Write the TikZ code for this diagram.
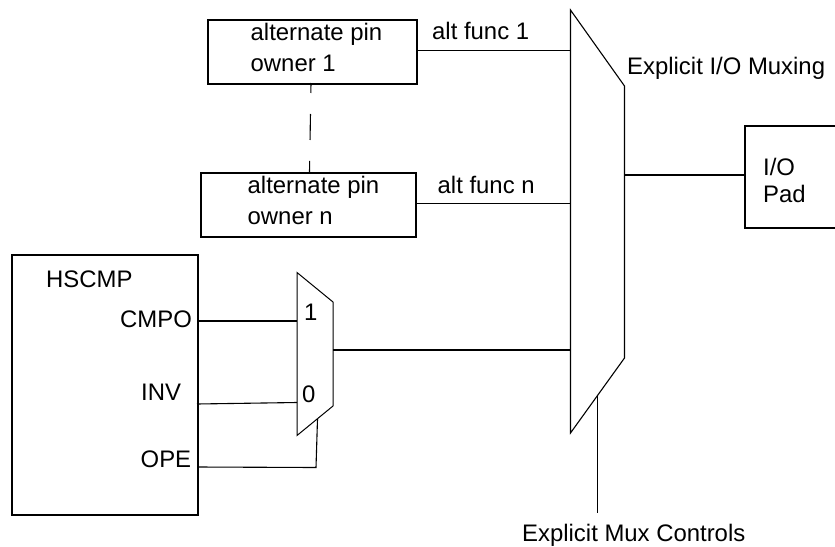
\documentclass[tikz,border=0pt]{standalone}
\usepackage{fontspec}
\setmainfont{Liberation Sans}
\begin{document}
\begin{tikzpicture}[x=1pt,y=-1pt,
  lbl/.style={anchor=base west,inner sep=0pt,font=\fontsize{23.9}{28}\selectfont},
  thickbox/.style={draw,line width=2.2pt,inner sep=0pt,anchor=north west},
  wire/.style={line width=1.1pt},
  heavy/.style={line width=1.9pt}]
\useasboundingbox (0,0) rectangle (835,546);
% boxes
\node[thickbox,minimum width=209pt,minimum height=64pt] (ownerA) at (207,19) {};
\node[thickbox,minimum width=215pt,minimum height=64pt] (ownerN) at (200,172) {};
\node[thickbox,minimum width=100pt,minimum height=102pt] (pad) at (744,124.5) {};
\node[thickbox,minimum width=186pt,minimum height=260pt] (hscmp) at (11,254) {};
% muxes
\coordinate (bigA) at (570.5,10);
\coordinate (bigB) at (624.5,86);
\coordinate (bigC) at (624.5,358);
\coordinate (bigD) at (570.5,433);
\draw[line width=1.1pt,line join=miter] (bigA) -- (bigB) -- (bigC) -- (bigD) -- cycle;
\coordinate (smA) at (297,272.5);
\coordinate (smB) at (333,302);
\coordinate (smC) at (333,406);
\coordinate (smD) at (297,435.5);
\draw[line width=1pt,line join=miter] (smA) -- (smB) -- (smC) -- (smD) -- cycle;
% port coordinates
\coordinate (in1) at (570.5,50.5);
\coordinate (inN) at (570.5,203.5);
\coordinate (in0) at (570.5,349.7);
\coordinate (bigOut) at (624.5,174.7);
\coordinate (padIn) at (744,174.7);
\coordinate (ctlTop) at (597.5,396);
\coordinate (ctlEnd) at (597.5,513);
\coordinate (aOut) at (416,50.5);
\coordinate (nOut) at (415,203.5);
\coordinate (cmpoS) at (197,320.7);
\coordinate (cmpoT) at (297,320.7);
\coordinate (invS) at (197,404);
\coordinate (invT) at (297,402.5);
\coordinate (opeS) at (197,467);
\coordinate (opeK) at (316,467.5);
\coordinate (opeT) at (317.5,419);
\coordinate (smOut) at (333,349.7);
\coordinate (dashA) at (311,83);
\coordinate (dashB) at (309.5,172);
% connectors
\draw[wire] (aOut) -- (in1);
\draw[wire] (nOut) -- (inN);
\draw[heavy] (smOut) -- (in0);
\draw[heavy] (bigOut) -- (padIn);
\draw[wire] (ctlTop) -- (ctlEnd);
\draw[heavy] (cmpoS) -- (cmpoT);
\draw[wire] (invS) -- (invT);
\draw[wire] (opeS) -- (opeK) -- (opeT);
\draw[wire,dash pattern=on 10pt off 21pt on 26pt off 21pt on 11pt] (dashA) -- (dashB);
% labels
\node[lbl] (t1) at (250.5,40) {alternate pin};
\node[lbl] (t2) at (250.5,71) {owner 1};
\node[lbl] (t3) at (247.5,193) {alternate pin};
\node[lbl] (t4) at (247.5,224) {owner n};
\node[lbl] (t5) at (432,39) {alt func 1};
\node[lbl] (t6) at (437.5,193) {alt func n};
\node[lbl] (t7) at (627,74) {Explicit I/O Muxing};
\node[lbl] (t8) at (763,175) {I/O};
\node[lbl] (t9) at (763,202) {Pad};
\node[lbl] (t10) at (46,287) {HSCMP};
\node[lbl] (t11) at (120,327) {CMPO};
\node[lbl] (t12) at (141,400) {INV};
\node[lbl] (t13) at (140.5,467) {OPE};
\node[lbl] (t14) at (304,320) {1};
\node[lbl] (t15) at (302,402) {0};
\node[lbl] (t16) at (522,541.5) {Explicit Mux Controls};
\end{tikzpicture}
\end{document}
